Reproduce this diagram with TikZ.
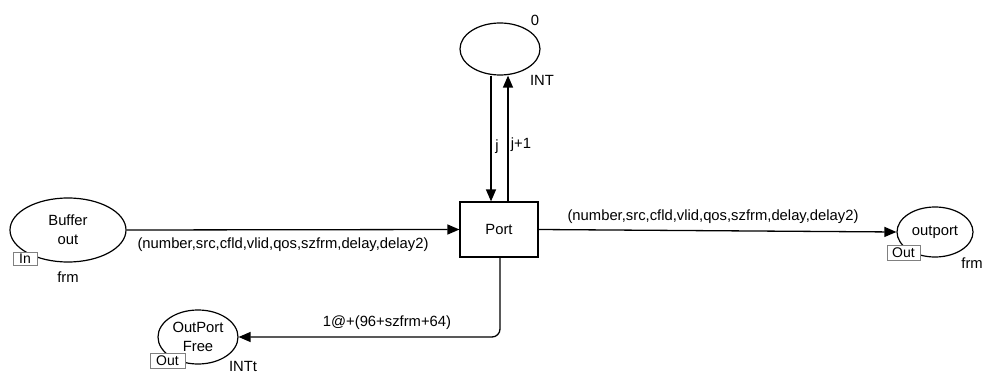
\documentclass[tikz,border=0pt]{standalone}
\usepackage{fontspec}
\setmainfont{Liberation Sans}
\usetikzlibrary{shapes.geometric,arrows.meta}
\begin{document}
\begin{tikzpicture}[x=1pt,y=-1pt,
  font=\fontsize{14.8}{19}\selectfont,
  place/.style={ellipse,draw,line width=1.2pt,inner sep=0pt,align=center},
  trans/.style={rectangle,draw,line width=1.2pt,minimum width=78pt,minimum height=55pt},
  arr/.style={line width=1.3pt,-{Triangle[length=12pt,width=10pt]}},
  tag/.style={draw=gray,fill=white,line width=0.7pt,inner sep=0pt,font=\fontsize{14}{14}\selectfont}]
\useasboundingbox (0,0) rectangle (984,374);
% places and transition
\node[place,minimum width=116pt,minimum height=64pt] (buf) at (68,230) {Buffer\\out};
\node[trans] (port) at (499,229.5) {Port};
\node[place,minimum width=80pt,minimum height=52pt] (cnt) at (500,49) {};
\node[place,minimum width=76pt,minimum height=50pt] (outp) at (935,232) {outport};
\node[place,minimum width=80pt,minimum height=54pt] (free) at (198,337) {OutPort\\Free};
% port tags
\node[tag,minimum width=24pt,minimum height=13pt] (tin) at (25,258.5) {In};
\node[tag,minimum width=33pt,minimum height=15pt] (tout1) at (903.5,252.5) {Out};
\node[tag,minimum width=35pt,minimum height=15pt] (tout2) at (167.5,360.5) {Out};
% colour sets and initial marking
\node (cs1) at (68,277) {frm};
\node[anchor=east,inner sep=0pt] (cs2) at (983,263) {frm};
\node[inner sep=0pt] (cs3) at (243,366) {INTt};
\node (cs4) at (542,80) {INT};
\node (im) at (535,20) {0};
% arcs
\draw[arr] (buf.east) -- (port.west);
\node (l1) at (283,245) {(number,src,cfld,vlid,qos,szfrm,delay,delay2)};
\draw[arr] (port.east) -- (outp.west);
\node (l2) at (713,217) {(number,src,cfld,vlid,qos,szfrm,delay,delay2)};
\draw[arr] ([xshift=-9pt]cnt.south) -- ([xshift=-8pt]port.north);
\node (l3) at (497,147) {j};
\draw[arr] ([xshift=9pt]port.north) -- ([xshift=8pt]cnt.south);
\node (l4) at (521,145) {j+1};
\draw[arr,rounded corners=8pt] ([xshift=1pt]port.south) |- (free.east);
\node (l5) at (387,323) {1@+(96+szfrm+64)};
\end{tikzpicture}
\end{document}
